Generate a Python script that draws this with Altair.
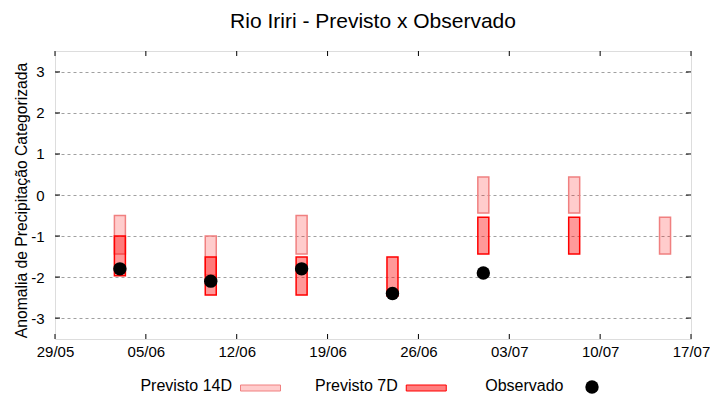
import altair as alt
import pandas as pd

# ---- data ----
dates = ["2024-06-03", "2024-06-10", "2024-06-17", "2024-06-24",
         "2024-07-01", "2024-07-08", "2024-07-15"]
p14_top = [-0.50, -1.00, -0.50, None, 0.44, 0.44, -0.54]
p14_bot = [-1.44, -1.95, -1.44, None, -0.44, -0.44, -1.44]
p7_top = [-1.00, -1.51, -1.51, -1.51, -0.54, -0.54, None]
p7_bot = [-1.97, -2.44, -2.44, -2.46, -1.44, -1.44, None]
observed = [-1.8, -2.1, -1.8, -2.4, -1.9, None, None]

x_ticks = ["2024-05-29", "2024-06-05", "2024-06-12", "2024-06-19",
           "2024-06-26", "2024-07-03", "2024-07-10", "2024-07-17"]
y_ticks = [-3, -2, -1, 0, 1, 2, 3]
y_domain = [-3.51, 3.51]

legend_labels = ["Previsto 14D", "Previsto 7D", "Observado"]
legend_fill = ["red", "red", "black"]
legend_fill_opacity = [0.2, 0.5, 1.0]
legend_stroke = ["#f08080", "red", "black"]

TITLE = "Rio Iriri - Previsto x Observado"
Y_TITLE = "Anomalia de Precipitação Categorizada"

W, H = 636, 288
FONT = "Liberation Sans"


def dt(s):
    y, m, d = (int(p) for p in s.split("-"))
    return alt.DateTime(year=y, month=m, date=d, utc=True)


df14 = pd.DataFrame({"date": dates, "top": p14_top, "bot": p14_bot}).dropna()
df7 = pd.DataFrame({"date": dates, "top": p7_top, "bot": p7_bot}).dropna()
dfo = pd.DataFrame({"date": dates, "obs": observed}).dropna()
dfxt = pd.DataFrame({"d": x_ticks})
dfyt = pd.DataFrame({"v": y_ticks})
dfleg = pd.DataFrame({"label": legend_labels, "fill": legend_fill,
                      "fop": legend_fill_opacity, "stroke": legend_stroke})

x_scale = alt.Scale(type="utc", domain=[dt(x_ticks[0]), dt(x_ticks[-1])], padding=0)
y_scale = alt.Scale(domain=y_domain, nice=False, zero=False)

x_axis = alt.Axis(values=[dt(s) for s in x_ticks], format="%d/%m", title=None,
                  grid=False, ticks=False, tickSize=0, domain=False,
                  labelPadding=5, labelFontSize=15, labelColor="black",
                  labelFlush=False, labelOverlap=False, labelFont=FONT)
y_axis = alt.Axis(values=y_ticks, grid=True, gridColor="#a0a0a0",
                  gridDash=[3, 3], gridWidth=1, ticks=False, tickSize=0,
                  domain=False, labelPadding=11, labelFontSize=15,
                  labelColor="black", labelExpr="'' + datum.value",
                  labelFont=FONT, title=Y_TITLE, titleFontSize=15.7,
                  titleFontWeight="normal", titleColor="black",
                  titlePadding=1, titleFont=FONT, titleY=H / 2 + 5)

X = alt.X("date:T", scale=x_scale, axis=x_axis)

bars14 = alt.Chart(df14).mark_bar(
    width=11, fill="red", fillOpacity=0.2, stroke="#f08080", strokeWidth=1.5
).encode(x=X, y=alt.Y("top:Q", scale=y_scale, axis=y_axis), y2="bot:Q")

bars7 = alt.Chart(df7).mark_bar(
    width=11, fill="red", fillOpacity=0.4, stroke="red", strokeWidth=1.5
).encode(x=X, y=alt.Y("top:Q", scale=y_scale, axis=y_axis), y2="bot:Q")

obs = alt.Chart(dfo).mark_circle(size=180, color="black", opacity=1).encode(
    x=X, y=alt.Y("obs:Q", scale=y_scale, axis=y_axis))

XT = alt.X("d:T", scale=x_scale, axis=x_axis)
YT = alt.Y("v:Q", scale=y_scale, axis=y_axis)
tick_left = alt.Chart(dfyt).mark_rule(color="black", strokeWidth=1).encode(
    y=YT, x=alt.value(0), x2=alt.value(5))
tick_right = alt.Chart(dfyt).mark_rule(color="black", strokeWidth=1).encode(
    y=YT, x=alt.value(W - 5), x2=alt.value(W))
tick_bottom = alt.Chart(dfxt).mark_rule(color="black", strokeWidth=1).encode(
    x=XT, y=alt.value(H - 5), y2=alt.value(H))
tick_top = alt.Chart(dfxt).mark_rule(color="black", strokeWidth=1).encode(
    x=XT, y=alt.value(0), y2=alt.value(5))

main = alt.layer(bars14, bars7, obs, tick_left, tick_right, tick_bottom, tick_top)

# ---- legend row under the plot ----
leg_scale = alt.Scale(type="point", domain=legend_labels, range=[205.5, 537], padding=0)
LX = alt.X("label:N", scale=leg_scale, axis=None, sort=legend_labels)

leg_text = alt.Chart(dfleg).mark_text(
    align="right", baseline="middle", dx=-28.5, fontSize=16, color="black", font=FONT
).encode(x=LX, y=alt.value(H + 47), text="label:N")

leg_swatch = alt.Chart(dfleg.iloc[:2]).mark_bar(width=40, strokeWidth=1).encode(
    x=LX, y=alt.value(H + 46), y2=alt.value(H + 52),
    fill=alt.Fill("fill:N", scale=None),
    fillOpacity=alt.FillOpacity("fop:Q", scale=None),
    stroke=alt.Stroke("stroke:N", scale=None))

leg_dot = alt.Chart(dfleg.iloc[2:]).mark_circle(size=180, color="black", opacity=1).encode(
    x=LX, y=alt.value(H + 48))

chart = alt.layer(main, leg_text, leg_swatch, leg_dot).resolve_scale(
    x="independent"
).properties(
    width=W, height=H,
    title=alt.TitleParams(TITLE, fontSize=21, fontWeight="normal", font=FONT,
                          anchor="middle", baseline="alphabetic", offset=2,
                          color="black"),
    padding={"left": 5, "top": 2, "right": 0, "bottom": 0},
).configure_view(stroke="black", strokeWidth=1).configure(font=FONT)

chart.save("out.html", embed_options={"renderer": "svg", "actions": False})
